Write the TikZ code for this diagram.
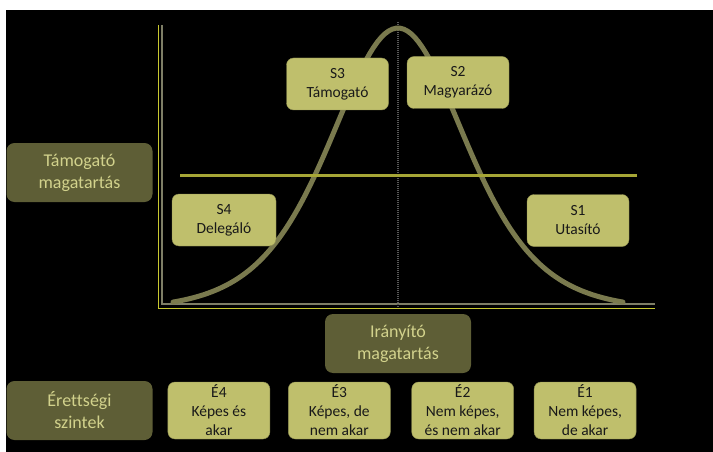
\documentclass[tikz,border=0pt]{standalone}
\usepackage{fontspec}
\setmainfont[Ligatures=NoCommon]{Carlito}
\usetikzlibrary{positioning}
\definecolor{lightolive}{HTML}{BFBF6C}
\definecolor{darkolive}{HTML}{5E5E36}
\definecolor{paletext}{HTML}{D2D28C}
\definecolor{curveolive}{HTML}{7A7A4E}
\definecolor{midline}{HTML}{A6A636}
\definecolor{axisyellow}{HTML}{C8C830}
\definecolor{axisgray}{HTML}{7E7E66}
\tikzstyle{stylebox}=[draw=lightolive!75!black, fill=lightolive, rounded corners=7pt, minimum width=102pt, minimum height=52pt, align=center, text=black!90, font=\fontsize{15.5}{19}\selectfont, inner sep=0pt]
\tikzstyle{levelbox}=[stylebox, minimum height=57pt]
\tikzstyle{axisbox}=[fill=darkolive, rounded corners=8pt, minimum width=146pt, minimum height=59pt, align=center, text=paletext, font=\fontsize{18}{22}\selectfont, inner sep=0pt]

\begin{document}
\begin{tikzpicture}[x=1pt, y=-1pt]
  \useasboundingbox (0,0) rectangle (713,452);
  \fill[white] (0,0) rectangle (713,452);
  \fill[black] (6,10) rectangle (713,452);
  % axes
  \coordinate (top) at (158,25);
  \coordinate (o) at (158,308);
  \coordinate (end) at (655,308);
  \draw[axisgray, line width=1.2pt] ([xshift=4pt]top) -- ([shift={(4pt,4pt)}]o) -- ([yshift=4pt]end);
  \draw[axisyellow, line width=0.9pt] (top) -- (o) -- (end);
  \coordinate (peak) at (398,22);
  \coordinate (foot) at (398,307);
  \draw[black!65, line width=2pt, dash pattern=on 1pt off 1pt] (peak) -- (foot);
  % bell curve
  \draw[curveolive, line width=5pt, line cap=round] plot[domain=173:623, samples=120] (\x, {310-282/(cosh((\x-398)/91)^2)});
  \coordinate (ml) at (180,175);
  \coordinate (mr) at (637,175);
  \draw[midline, line width=3pt] (ml) -- (mr);
  % styles
  \node[stylebox] (s3) at (337.5,84) {S3\\Támogató};
  \node[stylebox] (s2) at (458,82.5) {S2\\Magyarázó};
  \node[stylebox, minimum width=104pt] (s4) at (224,220) {S4\\Delegáló};
  \node[stylebox] (s1) at (578,220.5) {S1\\Utasító};
  % axis labels
  \node[axisbox] (ty) at (79.5,172.5) {Támogató\\magatartás};
  \node[axisbox] (iy) at (398,343.5) {Irányító\\magatartás};
  % levels
  \node[axisbox] (esz) at (79.5,410.5) {Érettségi\\szintek};
  \node[levelbox] (e4) [right=15pt of esz] {É4\\Képes és\\akar};
  \node[levelbox] (e3) [right=18pt of e4] {É3\\Képes, de\\nem akar};
  \node[levelbox] (e2) [right=21pt of e3] {É2\\Nem képes,\\és nem akar};
  \node[levelbox] (e1) [right=20pt of e2] {É1\\Nem képes,\\de akar};
\end{tikzpicture}
\end{document}
